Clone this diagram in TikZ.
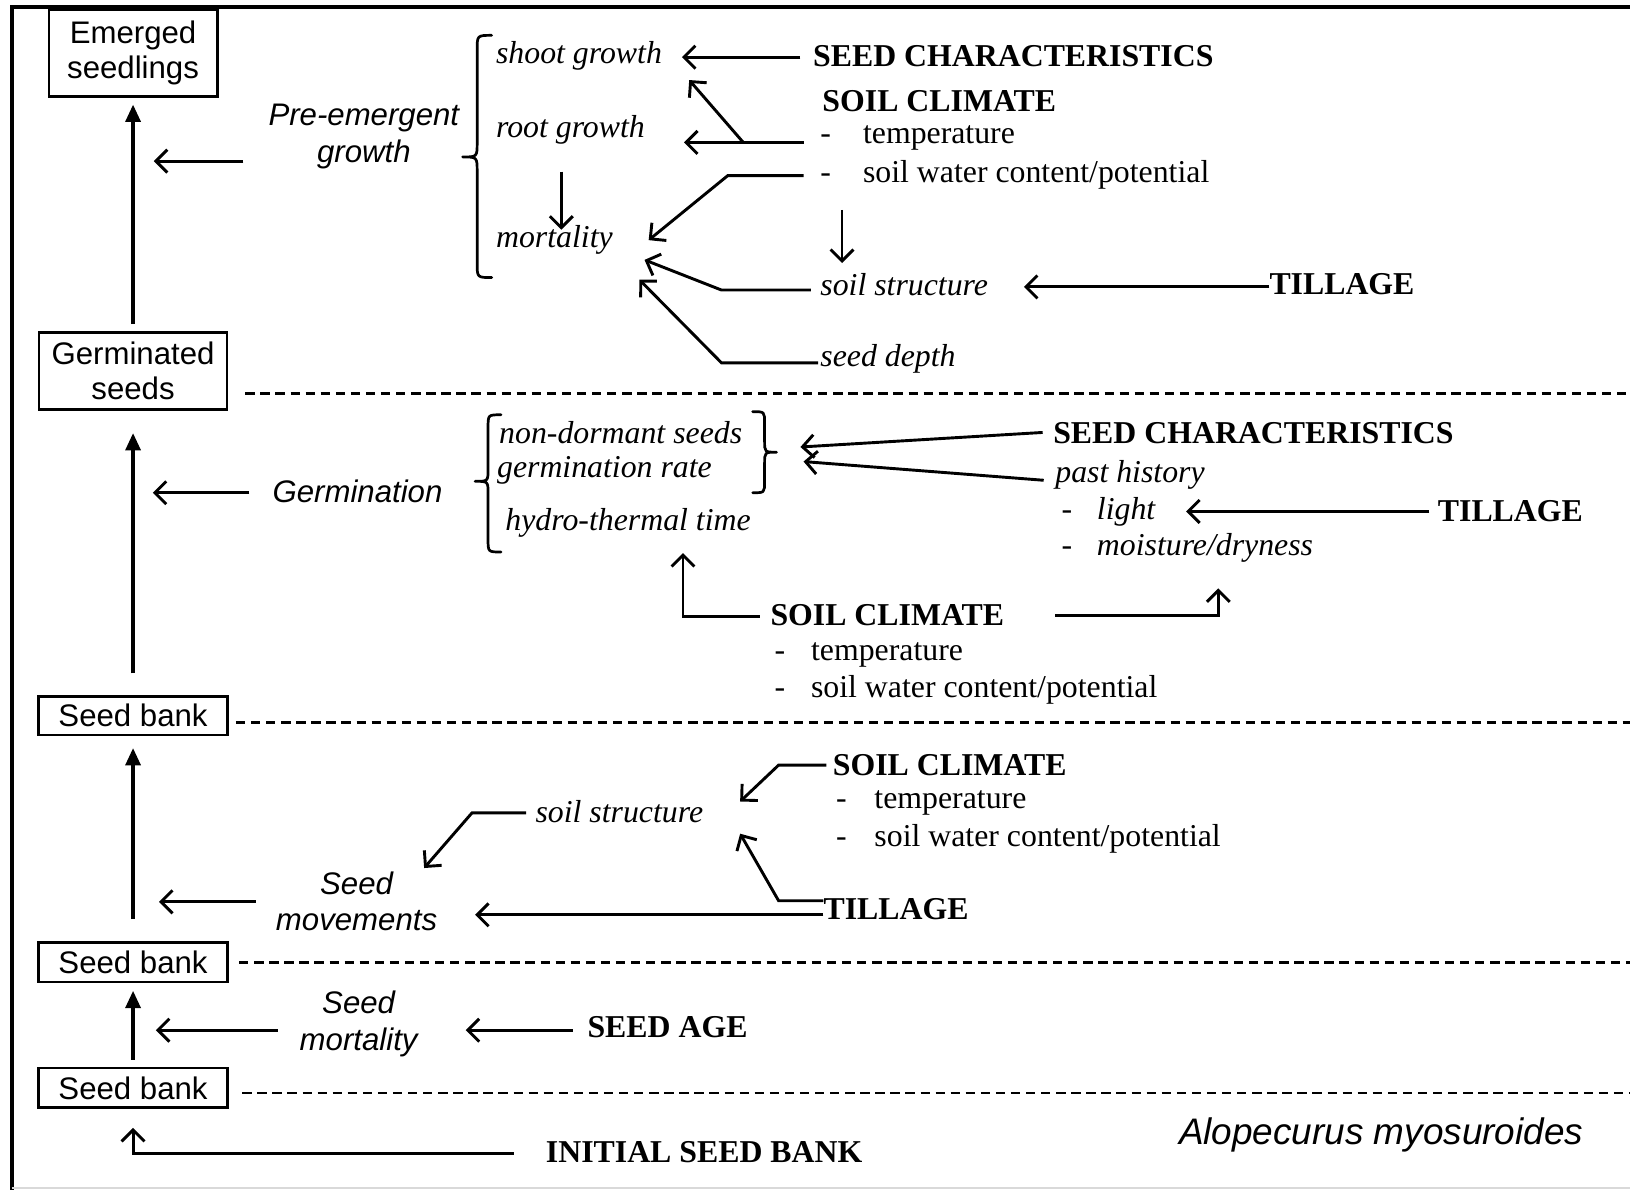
\documentclass[tikz,border=0pt]{standalone}
\usepackage{fontspec}
\setmainfont{Liberation Serif}
\newfontfamily\arial{Liberation Sans}
\usetikzlibrary{arrows.meta,calc}

\begin{document}
\begin{tikzpicture}[x=1pt,y=-1pt,
  every node/.style={inner sep=0pt},
  tx/.style={anchor=west, font=\fontsize{30.6}{35}\selectfont},
  itx/.style={anchor=west, font=\fontsize{30.6}{35}\selectfont\itshape},
  bfx/.style={anchor=west, font=\fontsize{30.6}{35}\selectfont\bfseries},
  dashmark/.style={anchor=base west, font=\fontsize{30.6}{35}\selectfont},
  sansit/.style={align=center, font=\arial\fontsize{30}{35}\selectfont\itshape},
  box/.style={draw, line width=2.6pt, align=center,
    font=\arial\fontsize{30}{34}\selectfont, minimum width=182pt},
  arr/.style={line width=2.8pt, -{Straight Barb[length=11pt,width=22pt]}},
  spine/.style={line width=4.6pt, -{Triangle[length=17pt,width=14pt]}},
  level/.style={line width=2.3pt, dash pattern=on 9pt off 5.5pt},
  brace/.style={line width=2.6pt, line cap=round, line join=round},
]
\useasboundingbox (0,0) rectangle (1568,1145);
\fill[white] (0,0) rectangle (1568,1145);

% frame
\draw[line width=4.5pt] (10,6.7) -- (1568,6.7);
\draw[line width=3pt] (11.5,5) -- (11.5,1145);
\draw[black!15, line width=1.5pt] (11.5,1143) -- (1568,1143);

% stages of the life cycle
\node[box, minimum width=162pt, minimum height=84pt] (emerged) at (128,51) {Emerged\\seedlings};
\node[box, minimum width=181pt, minimum height=74pt] (germinated) at (128,357) {Germinated\\seeds};
\node[box, minimum height=37pt] (bank1) at (128,688.5) {Seed bank};
\node[box, minimum height=38pt] (bank2) at (128,925.5) {Seed bank};
\node[box, minimum height=38pt] (bank3) at (128,1046.5) {Seed bank};

\draw[spine, shorten <=7pt, shorten >=6pt] (germinated.north) -- (emerged.south);
\draw[spine, shorten <=21pt, shorten >=21pt] (bank1.north) -- (germinated.south);
\draw[spine, shorten <=21pt, shorten >=11pt] (bank2.north) -- (bank1.south);
\draw[spine, shorten <=7pt, shorten >=7pt] (bank3.north) -- (bank2.south);

% level separators
\draw[level] (236,378.5) -- (1568,378.5);
\draw[level] (227,695) -- (1568,695);
\draw[level] (230,926) -- (1568,926);
\draw[level] (233,1051.5) -- (1568,1051.5);

% ---------- pre-emergent growth ----------
\node[sansit] (pregrowth) at (350,131.5) {Pre-emergent\\growth};
\draw[brace] (473,34) .. controls (459,34) .. (459,48) -- (459,137)
  .. controls (459,151) .. (445,151) .. controls (459,151) .. (459,165)
  -- (459,253) .. controls (459,267) .. (473,267);
\node[itx] (shoot) at (477,54) {shoot growth};
\node[itx] (root) at (477,125) {root growth};
\node[itx] (mort1) at (477,231) {mortality};
\node[bfx] (seedchar1) at (782,54) {SEED CHARACTERISTICS};
\node[bfx] (soilclim1) at (791,97) {SOIL CLIMATE};
\node[tx] (temp1) at (830,133) {temperature};
\node[dashmark] (dash1a) at ($(temp1.base west)+(-41,0)$) {-};
\node[tx] (water1) at (830,168) {soil water content/potential};
\node[dashmark] (dash1b) at ($(water1.base west)+(-41,0)$) {-};
\node[itx] (struct1) at (789,274) {soil structure};
\node[itx] (depth1) at (789,345) {seed depth};
\node[bfx] (till1) at (1221,273) {TILLAGE};

\coordinate (preA) at (234,155);   \coordinate (preB) at (148,155);
\coordinate (scA) at (770,55);     \coordinate (scB) at (656,55);
\coordinate (tmA) at (773,137);    \coordinate (tmB) at (658,137);
\coordinate (tmK) at (715,137);    \coordinate (tmC) at (663,77);
\coordinate (wtA) at (773,169);    \coordinate (wtK) at (700,169);
\coordinate (wtB) at (624,231);
\coordinate (wdA) at (810,202);    \coordinate (wdB) at (810,253);
\coordinate (stA) at (780,279);    \coordinate (stK) at (694,279);
\coordinate (stB) at (620,250);
\coordinate (dpA) at (787,349);    \coordinate (dpK) at (694,349);
\coordinate (dpB) at (615,269);
\coordinate (tlA) at (1221,276);   \coordinate (tlB) at (985,276);
\coordinate (rtA) at (540,165);    \coordinate (rtB) at (540,221);

\draw[arr] (preA) -- (preB);
\draw[arr] (scA) -- (scB);
\draw[arr] (tmA) -- (tmB);
\draw[arr] (tmK) -- (tmC);
\draw[arr] (wtA) -- (wtK) -- (wtB);
\draw[arr] (wdA) -- (wdB);
\draw[arr] (stA) -- (stK) -- (stB);
\draw[arr] (dpA) -- (dpK) -- (dpB);
\draw[arr] (tlA) -- (tlB);
\draw[arr] (rtA) -- (rtB);

% ---------- germination ----------
\node[sansit, anchor=west] (germination) at (262,473) {Germination};
\draw[brace] (482,399) .. controls (469.5,399) .. (469.5,411) -- (469.5,451)
  .. controls (469.5,463) .. (457,463) .. controls (469.5,463) .. (469.5,475)
  -- (469.5,519) .. controls (469.5,531) .. (482,531);
\draw[brace] (724,396) .. controls (735.5,396) .. (735.5,407) -- (735.5,424)
  .. controls (735.5,435) .. (747,435) .. controls (735.5,435) .. (735.5,446)
  -- (735.5,463) .. controls (735.5,474) .. (724,474);
\node[itx] (nondorm) at (480,416) {non-dormant seeds};
\node[itx] (germrate) at (478,452) {germination rate};
\node[itx] (hydro) at (486,503) {hydro-thermal time};
\node[bfx] (seedchar2) at (1013,417) {SEED CHARACTERISTICS};
\node[itx] (past) at (1015,457) {past history};
\node[itx] (light) at (1055,492) {light};
\node[dashmark] (dash2a) at ($(light.base west)+(-34,0)$) {-};
\node[itx] (moist) at (1055,527) {moisture/dryness};
\node[dashmark] (dash2b) at ($(moist.base west)+(-34,0)$) {-};
\node[bfx] (till2) at (1383,492) {TILLAGE};
\node[bfx] (soilclim2) at (741,592) {SOIL CLIMATE};
\node[tx] (temp2) at (780,630) {temperature};
\node[dashmark] (dash2c) at ($(temp2.base west)+(-35,0)$) {-};
\node[tx] (water2) at (780,664) {soil water content/potential};
\node[dashmark] (dash2d) at ($(water2.base west)+(-35,0)$) {-};

\coordinate (geA) at (240,474);    \coordinate (geB) at (147,474);
\coordinate (sc2A) at (1003,416);  \coordinate (sc2B) at (770,430);
\coordinate (phA) at (1004,462);   \coordinate (phB) at (773,444);
\coordinate (tl2A) at (1375,492);  \coordinate (tl2B) at (1141,492);
\coordinate (cl2A) at (731,593);   \coordinate (cl2K) at (657,593);
\coordinate (cl2B) at (657,532);
\coordinate (cl2C) at (1015,592);  \coordinate (cl2L) at (1172,592);
\coordinate (cl2D) at (1172,566);

\draw[arr] (geA) -- (geB);
\draw[arr] (sc2A) -- (sc2B);
\draw[arr] (phA) -- (phB);
\draw[arr] (tl2A) -- (tl2B);
\draw[arr] (cl2A) -- (cl2K) -- (cl2B);
\draw[arr] (cl2C) -- (cl2L) -- (cl2D);

% ---------- seed movements ----------
\node[sansit] (movements) at (343,867) {Seed\\movements};
\node[itx] (struct3) at (515,781) {soil structure};
\node[bfx] (soilclim3) at (801,736) {SOIL CLIMATE};
\node[tx] (temp3) at (841,772) {temperature};
\node[dashmark] (dash3a) at ($(temp3.base west)+(-37,0)$) {-};
\node[tx] (water3) at (841,807) {soil water content/potential};
\node[dashmark] (dash3b) at ($(water3.base west)+(-37,0)$) {-};
\node[bfx] (till3) at (792,875) {TILLAGE};

\coordinate (mvA) at (246,867.5);  \coordinate (mvB) at (153,867.5);
\coordinate (s3A) at (506,782);    \coordinate (s3K) at (454,782);
\coordinate (s3B) at (408,835);
\coordinate (c3A) at (795,736);    \coordinate (c3K) at (749,736);
\coordinate (c3B) at (712,771);
\coordinate (t3A) at (792,866.5);  \coordinate (t3K) at (749,866.5);
\coordinate (t3B) at (712,802);
\coordinate (t3C) at (792,880);    \coordinate (t3D) at (457,880);

\draw[arr] (mvA) -- (mvB);
\draw[arr] (s3A) -- (s3K) -- (s3B);
\draw[arr] (c3A) -- (c3K) -- (c3B);
\draw[arr] (t3A) -- (t3K) -- (t3B);
\draw[arr] (t3C) -- (t3D);

% ---------- seed mortality ----------
\node[sansit] (seedmort) at (345,985) {Seed\\mortality};
\node[bfx] (seedage) at (565,988) {SEED AGE};
\node[bfx] (initial) at (525,1108) {INITIAL SEED BANK};
\node[sansit, anchor=west, font=\arial\fontsize{35.5}{40}\selectfont\itshape] (species) at (1134,1092) {Alopecurus myosuroides};

\coordinate (smA) at (267,991);    \coordinate (smB) at (150,991);
\coordinate (saA) at (551,991);    \coordinate (saB) at (448,991);
\coordinate (inA) at (494,1110);   \coordinate (inK) at (128,1110);
\coordinate (inB) at (128,1085);

\draw[arr] (smA) -- (smB);
\draw[arr] (saA) -- (saB);
\draw[arr] (inA) -- (inK) -- (inB);
\end{tikzpicture}
\end{document}
